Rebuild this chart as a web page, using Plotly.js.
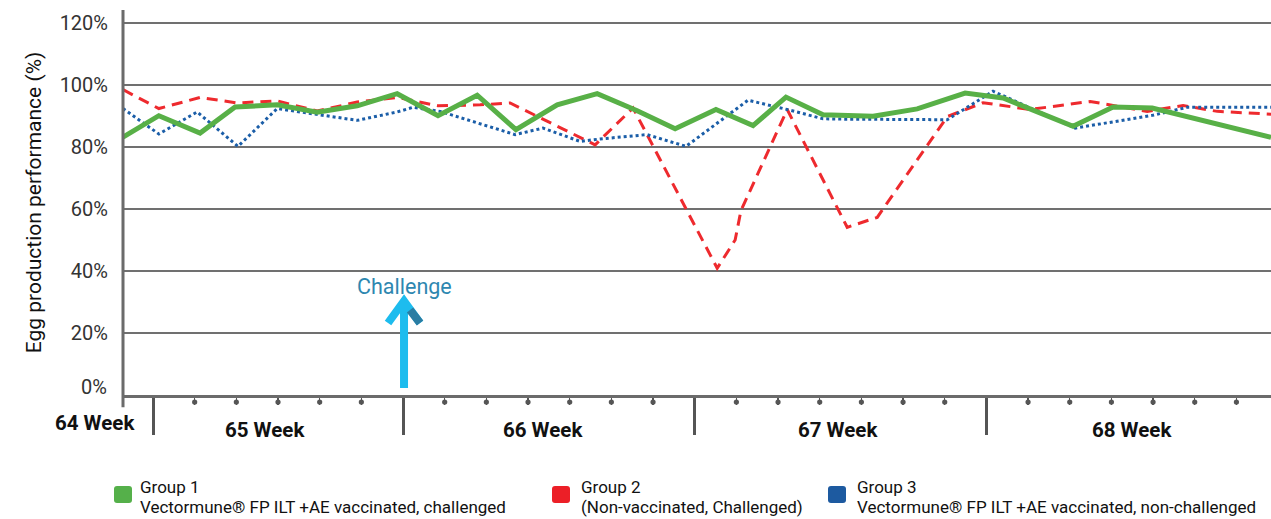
<!DOCTYPE html>
<html>
<head>
<meta charset="utf-8">
<script src="https://cdn.plot.ly/plotly-3.0.1.min.js"></script>
<style>html,body{margin:0;padding:0;background:#fff;}#chart{width:1271px;height:519px;}</style>
</head>
<body>
<div id="chart"></div>
<script>
// ---- data (x in days; day 0 = start of week 65) ----
const group1X = [-0.72,0.14,1.13,1.97,2.98,3.94,4.9,5.86,6.84,7.78,8.71,9.7,10.66,11.62,12.53,13.51,14.4,15.19,16.08,17.28,18.34,19.49,20.4,22.08,23.04,23.98,26.83];
const group1Y = [83.2,90.1,84.5,92.9,93.6,91.2,93.3,97.2,90.1,96.7,85.6,93.6,97.2,91.7,85.9,92.1,86.9,96.1,90.4,89.9,92.3,97.4,95.8,86.7,92.9,92.6,83.1];
const group2X = [-0.72,0.14,1.13,2.02,2.98,3.94,4.9,5.86,6.84,7.85,8.57,10.61,11.52,13.54,13.97,14.11,15.22,16.66,17.38,19.06,19.92,21.05,22.49,23.86,24.72,25.54,26.83];
const group2Y = [98.5,92.4,96,94.2,94.9,91.6,94.5,96,93.3,93.6,94.2,80.7,92.6,40.9,50,59.5,92.1,54.1,57.3,89.8,94.3,92.1,94.7,91.5,93.4,91.5,90.6];
const group3X = [-0.72,0.14,1.06,2.04,2.98,3.94,4.9,5.86,6.24,6.89,8.69,9.36,10.25,10.73,11.86,12.79,14.28,15.22,16.08,16.49,19.06,20.16,22.13,23.98,24.82,26.83];
const group3Y = [92.4,84.2,91.3,80.2,92.4,90.4,88.6,91.3,92.8,91.5,84,86.1,81.8,82.6,84,80.2,95.1,92.1,89.1,89,88.8,98,86.1,90.2,92.8,92.8];

const weekTicks = [0,6,13,20];
const dayTicks = [1,2,3,4,5,7,8,9,10,11,12,14,15,16,17,18,19,21,22,23,24,25,26];
const firstWeekLabel = "64 Week";
const weekLabels = ["65 Week","66 Week","67 Week","68 Week"];
const weekLabelPos = [2.69,9.36,16.44,23.5];
const yTickVals = [20,40,60,80,100,120];
const yTickText = ["20%","40%","60%","80%","100%","120%"];
const zeroLabel = "0%";
const challengeDay = 6;

const legendTitles = ["Group 1","Group 2","Group 3"];
const legendSubs = ["Vectormune® FP ILT +AE vaccinated, challenged","(Non-vaccinated, Challenged)","Vectormune® FP ILT +AE vaccinated, non-challenged"];

const GREEN = "#58b047", RED = "#ee2a2e", BLUE = "#1b5ea8";
const SQ_COL = ["#55b04a", "#ec1f27", "#1d5aa0"];
const FONT = "Roboto, 'DejaVu Sans', sans-serif";

const traces = [
  {x: group2X, y: group2Y, mode: "lines", name: "Group 2", line: {color: RED, width: 3, dash: "11px,7px"}},
  {x: group3X, y: group3Y, mode: "lines", name: "Group 3", line: {color: BLUE, width: 3, dash: "dot"}},
  {x: group1X, y: group1Y, mode: "lines", name: "Group 1", line: {color: GREEN, width: 5}}
];

const shapes = [];
shapes.push({type: "line", xref: "paper", yref: "paper", x0: 0, x1: 0, y0: -0.032, y1: 1, line: {color: "#6b6b6b", width: 3}, layer: "above"});
dayTicks.forEach(d => {
  shapes.push({type: "circle", xref: "x", xsizemode: "pixel", xanchor: d, x0: -2.6, x1: 2.6,
    yref: "paper", ysizemode: "pixel", yanchor: 0, y0: -4.5, y1: -9.7,
    fillcolor: "#555", line: {width: 0}});
});
const ARROW = "#1dbcee";
shapes.push({type: "path", xref: "x", xsizemode: "pixel", xanchor: challengeDay, yref: "y", ysizemode: "pixel", yanchor: 0,
  path: "M1,7 L1,93", line: {color: ARROW, width: 8}});
shapes.push({type: "path", xref: "x", xsizemode: "pixel", xanchor: challengeDay, yref: "y", ysizemode: "pixel", yanchor: 0,
  path: "M-15,72 L1,94 L17,72", line: {color: ARROW, width: 8}});
shapes.push({type: "path", xref: "x", xsizemode: "pixel", xanchor: challengeDay, yref: "y", ysizemode: "pixel", yanchor: 0,
  path: "M7,85 L17,72", line: {color: "#2a7da3", width: 8}});

const legSqOff = [0, 438, 714];
const legTxtOff = [17, 458, 734];
legSqOff.forEach((o, i) => {
  const a = o - 9, b = o + 9, t = -91, u = -108, r = 3;
  shapes.push({type: "path", xref: "paper", xsizemode: "pixel", xanchor: 0, yref: "paper", ysizemode: "pixel", yanchor: 0,
    path: `M${a+r},${t} L${b-r},${t} Q${b},${t} ${b},${t-r} L${b},${u+r} Q${b},${u} ${b-r},${u} L${a+r},${u} Q${a},${u} ${a},${u+r} L${a},${t-r} Q${a},${t} ${a+r},${t} Z`,
    fillcolor: SQ_COL[i], line: {width: 0}});
});

const annotations = [];
annotations.push({text: firstWeekLabel, xref: "paper", x: 0, xanchor: "right", xshift: 14, y: 0, yref: "paper", yanchor: "middle",
  yshift: -28, showarrow: false, font: {family: FONT, size: 20.5, color: "#111", weight: 700}});
weekLabels.forEach((w, i) => {
  annotations.push({text: w, x: weekLabelPos[i], xref: "x", y: 0, yref: "paper", yanchor: "middle",
    yshift: -35, showarrow: false, font: {family: FONT, size: 20.5, color: "#111", weight: 700}});
});
annotations.push({text: zeroLabel, xref: "paper", x: 0, xanchor: "right", xshift: -14, y: 0, yref: "y", yanchor: "middle",
  yshift: 8, showarrow: false, font: {family: FONT, size: 20, color: "#333"}});
annotations.push({text: "Challenge", x: challengeDay, xref: "x", y: 0, yref: "paper", yanchor: "middle", xshift: 1,
  yshift: 109, showarrow: false, font: {family: FONT, size: 21.5, color: "#2e87b0"}});
legendTitles.forEach((t, i) => {
  annotations.push({text: t, xref: "paper", x: 0, xshift: legTxtOff[i] - 2, xanchor: "left",
    y: 0, yref: "paper", yanchor: "middle", yshift: -92, showarrow: false,
    font: {family: FONT, size: 17, color: "#111"}});
  annotations.push({text: legendSubs[i], xref: "paper", x: 0, xshift: legTxtOff[i] - 2, xanchor: "left",
    y: 0, yref: "paper", yanchor: "middle", yshift: -112, showarrow: false,
    font: {family: FONT, size: 17, color: "#111"}});
});

const layout = {
  width: 1271, height: 519,
  margin: {l: 123, r: 0, t: 10, b: 124, pad: 0},
  paper_bgcolor: "#fff", plot_bgcolor: "#fff",
  showlegend: false,
  font: {family: FONT},
  xaxis: {
    range: [-0.72, 26.83], showgrid: false, zeroline: false,
    showline: true, linecolor: "#6b6b6b", linewidth: 3,
    tickmode: "array", tickvals: weekTicks, ticks: "outside", ticklen: 37, tickwidth: 3, tickcolor: "#555",
    showticklabels: false,
    minor: {tickmode: "array", tickvals: dayTicks, ticks: "outside", ticklen: 7, tickwidth: 1.5, tickcolor: "#555", showgrid: false}
  },
  yaxis: {
    range: [0, 124.2], showgrid: true, gridcolor: "#707070", gridwidth: 2, zeroline: false, showline: false,
    tickmode: "array", tickvals: yTickVals, ticktext: yTickText, ticks: "", ticklabelstandoff: 14,
    tickfont: {family: FONT, size: 20, color: "#333"},
    title: {text: "Egg production performance (%)", font: {family: FONT, size: 21, color: "#111"}, standoff: 12}
  },
  shapes: shapes,
  annotations: annotations
};

Plotly.newPlot("chart", traces, layout, {displayModeBar: false, staticPlot: true});
</script>
</body>
</html>
